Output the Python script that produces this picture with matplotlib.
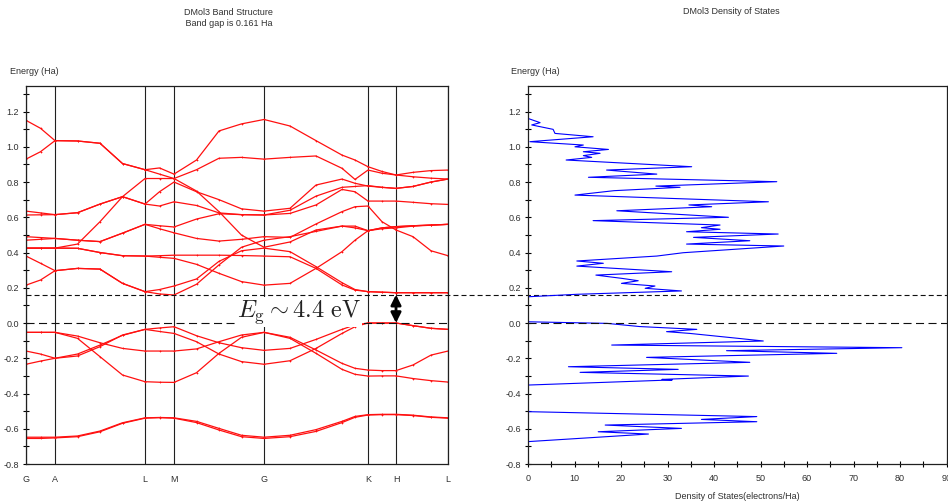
import matplotlib
matplotlib.use('Agg')
import matplotlib.pyplot as plt
import matplotlib.transforms as mtransforms
from matplotlib.lines import Line2D
from matplotlib.ticker import MultipleLocator, FormatStrFormatter

plt.rcParams['font.family'] = ['Liberation Sans', 'DejaVu Sans']
plt.rcParams['axes.unicode_minus'] = False
plt.rcParams['mathtext.fontset'] = 'cm'
plt.rcParams['lines.scale_dashes'] = False

# ---------------- data ----------------
kpath_labels = ['G', 'A', 'L', 'M', 'G', 'K', 'H', 'L']
kpath_pos = [0, 29, 119, 148, 238, 342, 370, 422]
k_samples = [0, 14.5, 29, 51.5, 74, 96.5, 119, 133.5, 148, 170.5, 193, 215.5,
             238, 264, 290, 316, 329, 342, 356, 370, 387, 405, 422]

band_c1 = [1.15, 1.105, 1.035, 1.033, 1.02, 0.905, 0.87, 0.88, 0.845, 0.925, 1.09, 1.13,
           1.155, 1.118, 1.035, 0.953, 0.925, 0.887, 0.86, 0.84, 0.855, 0.865, 0.868]
band_c2 = [0.93, 0.972, 1.035, 1.033, 1.02, 0.905, 0.87, 0.845, 0.82, 0.87, 0.935, 0.94,
           0.93, 0.94, 0.948, 0.878, 0.815, 0.868, 0.85, 0.84, 0.83, 0.822, 0.817]
band_c3 = [0.635, 0.625, 0.615, 0.626, 0.675, 0.717, 0.675, 0.664, 0.688, 0.667, 0.625, 0.615,
           0.613, 0.622, 0.67, 0.758, 0.745, 0.692, 0.692, 0.692, 0.685, 0.677, 0.673]
band_c4 = [0.613, 0.614, 0.615, 0.626, 0.675, 0.717, 0.675, 0.745, 0.80, 0.745, 0.70, 0.648,
           0.635, 0.651, 0.783, 0.817, 0.793, 0.777, 0.77, 0.764, 0.775, 0.80, 0.817]
band_c5 = [0.49, 0.485, 0.48, 0.47, 0.462, 0.51, 0.56, 0.552, 0.545, 0.59, 0.62, 0.615,
           0.613, 0.64, 0.72, 0.77, 0.775, 0.78, 0.77, 0.764, 0.775, 0.80, 0.817]
band_c6 = [0.47, 0.475, 0.48, 0.47, 0.462, 0.51, 0.56, 0.535, 0.512, 0.48, 0.465, 0.475,
           0.49, 0.486, 0.562, 0.632, 0.66, 0.664, 0.575, 0.528, 0.49, 0.41, 0.382]
band_c7 = [0.425, 0.425, 0.425, 0.424, 0.40, 0.382, 0.38, 0.382, 0.385, 0.385, 0.385, 0.383,
           0.38, 0.376, 0.31, 0.216, 0.187, 0.178, 0.175, 0.172, 0.172, 0.172, 0.172]
band_c8 = [0.425, 0.425, 0.425, 0.448, 0.575, 0.717, 0.82, 0.82, 0.82, 0.749, 0.632, 0.499,
           0.43, 0.46, 0.528, 0.55, 0.54, 0.524, 0.54, 0.547, 0.552, 0.556, 0.56]
band_c9 = [0.38, 0.339, 0.297, 0.31, 0.306, 0.225, 0.178, 0.19, 0.21, 0.25, 0.35, 0.41,
           0.425, 0.405, 0.32, 0.229, 0.19, 0.178, 0.175, 0.172, 0.172, 0.172, 0.172]
band_c10 = [0.215, 0.244, 0.297, 0.31, 0.306, 0.225, 0.178, 0.165, 0.159, 0.22, 0.33, 0.43,
            0.47, 0.49, 0.52, 0.55, 0.55, 0.524, 0.54, 0.547, 0.552, 0.556, 0.56]
band_c11 = [0.425, 0.425, 0.425, 0.424, 0.40, 0.382, 0.38, 0.373, 0.367, 0.333, 0.282, 0.235,
            0.215, 0.225, 0.31, 0.405, 0.47, 0.524, 0.535, 0.54, 0.55, 0.555, 0.56]
band_v1 = [-0.053, -0.053, -0.053, -0.074, -0.112, -0.144, -0.159, -0.159, -0.159, -0.147, -0.106, -0.068,
           -0.053, -0.081, -0.153, -0.229, -0.257, -0.267, -0.27, -0.27, -0.238, -0.182, -0.159]
band_v2 = [-0.053, -0.053, -0.053, -0.087, -0.191, -0.295, -0.333, -0.336, -0.337, -0.282, -0.172, -0.081,
           -0.053, -0.087, -0.172, -0.263, -0.291, -0.301, -0.30, -0.30, -0.315, -0.327, -0.335]
band_v3 = [-0.159, -0.176, -0.2, -0.187, -0.134, -0.068, -0.036, -0.028, -0.021, -0.072, -0.112, -0.140,
           -0.155, -0.144, -0.093, -0.036, -0.011, 0.0, 0.0, 0.0, -0.015, -0.03, -0.036]
band_v4 = [-0.234, -0.216, -0.2, -0.176, -0.125, -0.07, -0.036, -0.048, -0.059, -0.106, -0.176, -0.219,
           -0.234, -0.214, -0.144, -0.059, -0.021, 0.0, 0.0, 0.0, -0.015, -0.03, -0.036]
band_d1 = [-0.655, -0.655, -0.652, -0.645, -0.617, -0.569, -0.54, -0.537, -0.54, -0.565, -0.607, -0.645,
           -0.655, -0.645, -0.615, -0.565, -0.535, -0.522, -0.52, -0.52, -0.525, -0.535, -0.54]
band_d2 = [-0.648, -0.648, -0.648, -0.641, -0.613, -0.566, -0.538, -0.536, -0.538, -0.558, -0.598, -0.637,
           -0.648, -0.637, -0.605, -0.558, -0.530, -0.520, -0.518, -0.518, -0.523, -0.533, -0.538]

bands = [band_c1, band_c2, band_c3, band_c4, band_c5, band_c6, band_c7, band_c8,
         band_c9, band_c10, band_c11, band_v1, band_v2, band_v3, band_v4, band_d1, band_d2]

band_gap = 0.161
gap_label = r'$E_{\mathrm{g}} \sim 4.4\ \mathrm{eV}$'

dos_energy = [-0.74, -0.673, -0.630, -0.617, -0.598, -0.579, -0.560, -0.547, -0.531, -0.503,
              -0.352, -0.323, -0.320, -0.301, -0.280, -0.263, -0.248, -0.223, -0.195, -0.172,
              -0.157, -0.140, -0.125, -0.102, -0.087, -0.059, -0.049, -0.036, -0.020, -0.002,
              0.007, 0.149, 0.163, 0.182, 0.197, 0.210, 0.225, 0.240, 0.253, 0.272,
              0.291, 0.323, 0.339, 0.352, 0.380, 0.399, 0.437, 0.448, 0.467, 0.486,
              0.505, 0.518, 0.532, 0.541, 0.556, 0.581, 0.600, 0.637, 0.660, 0.670,
              0.688, 0.726, 0.751, 0.770, 0.777, 0.802, 0.827, 0.845, 0.868, 0.887,
              0.925, 0.940, 0.950, 0.963, 0.972, 0.985, 1.000, 1.010, 1.029, 1.057,
              1.076, 1.099, 1.124, 1.137, 1.161, 1.22]
dos_values = [0, 0, 25.9, 15.1, 33.0, 16.6, 49.2, 37.3, 49.2, 0,
              0, 31.0, 28.8, 47.4, 11.2, 32.3, 8.7, 47.7, 25.5, 66.4,
              42.7, 80.4, 18.0, 50.6, 45.2, 34.8, 29.8, 36.3, 24.0, 17.0,
              0, 0, 10.5, 33.0, 25.2, 27.3, 20.1, 23.7, 20.3, 14.6,
              30.9, 10.5, 16.2, 10.5, 27.7, 33.4, 55.0, 34.1, 47.7, 35.6,
              53.8, 34.1, 41.3, 37.3, 41.3, 14.0, 43.1, 19.1, 39.5, 34.6,
              51.7, 10.1, 18.5, 32.7, 27.5, 53.5, 13.0, 27.7, 16.9, 35.2,
              8.2, 13.7, 11.9, 15.5, 11.9, 17.3, 10.1, 11.9, 0.4, 14.0,
              5.8, 5.4, 0.8, 2.6, 0, 0]

# ---------------- figure ----------------
W, H = 948, 501
fig = plt.figure(figsize=(W / 100, H / 100), dpi=100)

def frac_box(x0, y0, x1, y1):
    return [x0 / W, 1 - y1 / H, (x1 - x0) / W, (y1 - y0) / H]

ax1 = fig.add_axes(frac_box(26, 86, 448, 464))
ax2 = fig.add_axes(frac_box(528, 86, 946.5, 464))
ax2.set_facecolor('none')

txt_color = '#303030'
fs = 6.5

# band structure
for b in bands:
    ax1.plot(k_samples, b, color='#ff1010', lw=0.9, marker='+', ms=1.6, mew=0.5,
             zorder=2, solid_joinstyle='round')
for p in kpath_pos:
    ax1.axvline(p, color='#202020', lw=0.8, zorder=1)

ax1.set_xlim(kpath_pos[0], kpath_pos[-1])
ax1.set_ylim(-0.8, 1.345)
ax1.set_xticks(kpath_pos)
ax1.set_xticklabels(kpath_labels)
ax1.tick_params(axis='x', length=0, pad=8, labelsize=fs, labelcolor=txt_color)

ax2.plot(dos_values, dos_energy, color='#0000ff', lw=0.8, zorder=2)
ax2.set_xlim(0, 90)
ax2.set_ylim(-0.8, 1.345)
ax2.xaxis.set_major_locator(MultipleLocator(10))
ax2.xaxis.set_minor_locator(MultipleLocator(5))
ax2.tick_params(axis='x', which='major', direction='inout', length=5, width=0.8,
                pad=5, labelsize=fs, labelcolor=txt_color)
ax2.tick_params(axis='x', which='minor', direction='inout', length=4, width=0.8)
ax2.set_xlabel('Density of States(electrons/Ha)', fontsize=fs, color=txt_color, labelpad=6)

for ax in (ax1, ax2):
    ax.yaxis.set_major_locator(MultipleLocator(0.2))
    ax.yaxis.set_minor_locator(MultipleLocator(0.1))
    ax.yaxis.set_major_formatter(FormatStrFormatter('%.1f'))
    ax.tick_params(axis='y', which='major', direction='inout', length=5, width=0.8,
                   pad=2.5, labelsize=fs, labelcolor=txt_color)
    ax.tick_params(axis='y', which='minor', direction='inout', length=4, width=0.8)
    for s in ax.spines.values():
        s.set_linewidth(0.9)
        s.set_color('#202020')

# dashed reference lines
trans = mtransforms.blended_transform_factory(fig.transFigure, ax1.transData)
ln_gap = Line2D([26 / W, 1.0], [band_gap, band_gap], transform=trans, color='#101010',
                lw=0.8, clip_on=False, zorder=3)
ln_gap.set_dashes([3.6, 2.2])
ax1.add_line(ln_gap)
for ax in (ax1, ax2):
    ln0 = ax.axhline(0.0, color='#101010', lw=0.8, zorder=3)
    ln0.set_dashes([5.8, 3.2])
ax1.set_xlim(kpath_pos[0], kpath_pos[-1])
ax1.set_ylim(-0.8, 1.345)

# band gap annotation
ax1.annotate('', xy=(kpath_pos[6], band_gap), xytext=(kpath_pos[6], 0.0),
             arrowprops=dict(arrowstyle='<|-|>', color='black', lw=2.0,
                             mutation_scale=15, shrinkA=0, shrinkB=0), zorder=6)
ax1.text(211, 0.036, gap_label, fontsize=17.5, color='#222222', ha='left', va='baseline',
         zorder=5, bbox=dict(facecolor='white', edgecolor='none', pad=0.5))

# titles and axis captions
fig.text(228 / W, 1 - 18 / H, 'DMol3 Band Structure\n Band gap is 0.161 Ha', ha='center',
         va='center', fontsize=fs, color=txt_color, linespacing=1.35)
fig.text(731 / W, 1 - 12 / H, 'DMol3 Density of States', ha='center', va='center',
         fontsize=fs, color=txt_color)
fig.text(10 / W, 1 - 71 / H, 'Energy (Ha)', ha='left', va='center', fontsize=fs, color=txt_color)
fig.text(511 / W, 1 - 71 / H, 'Energy (Ha)', ha='left', va='center', fontsize=fs, color=txt_color)

fig.savefig('out.png', dpi=100)
